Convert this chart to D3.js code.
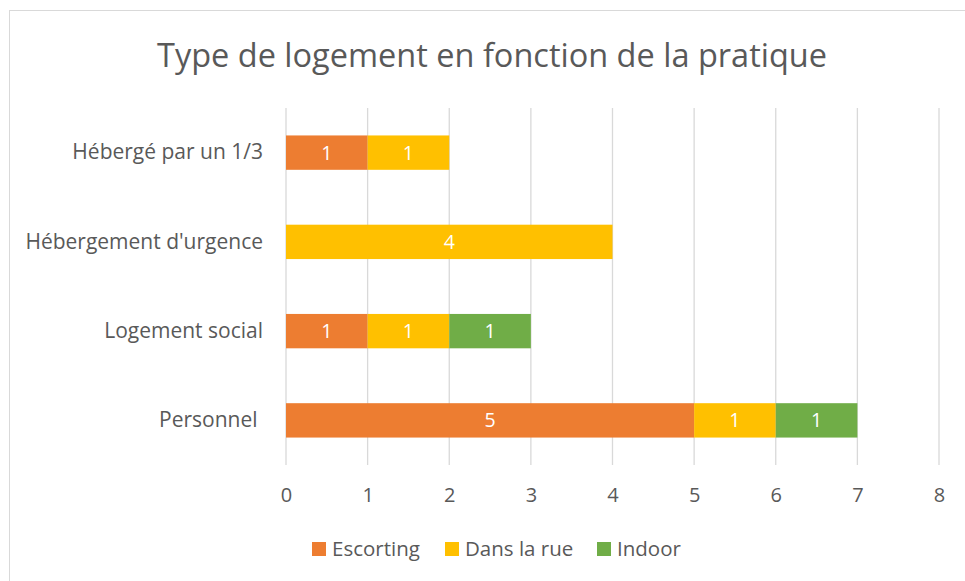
<!DOCTYPE html>
<html lang="fr">
<head>
<meta charset="UTF-8">
<title>Type de logement en fonction de la pratique</title>
<script src="https://d3js.org/d3.v7.min.js"></script>
<style>
  body { margin: 0; background: #fff; }
  svg text { font-family: "Open Sans", "Noto Sans", sans-serif; fill: #595959; }
</style>
</head>
<body>
<div id="chart"></div>
<script>
// categories, top to bottom
var categories = ["Hébergé par un 1/3", "Hébergement d'urgence", "Logement social", "Personnel "];
var seriesNames = ["Escorting", "Dans la rue", "Indoor"];
var escorting = [1, 0, 1, 5];
var dansLaRue = [1, 4, 1, 1];
var indoor = [0, 0, 1, 1];
var xTicks = [0, 1, 2, 3, 4, 5, 6, 7, 8];
var colors = ["#ED7D31", "#FFC000", "#70AD47"];

var W = 965, H = 581;
var svg = d3.select("#chart").append("svg")
  .attr("width", W).attr("height", H);

// chart frame
svg.append("rect")
  .attr("x", 9.5).attr("y", 10.5)
  .attr("width", W).attr("height", H)
  .attr("fill", "#fff").attr("stroke", "#d9d9d9");

svg.append("text")
  .attr("x", 492).attr("y", 67)
  .attr("text-anchor", "middle")
  .attr("font-size", 32.5)
  .text("Type de logement en fonction de la pratique");

var x = d3.scaleLinear().domain([0, 8]).range([286, 939]);
var y = d3.scaleBand().domain(categories).range([108, 465]).paddingInner(0.615).paddingOuter(0.3075);

// gridlines
svg.append("g").selectAll("line")
  .data(xTicks)
  .enter().append("line")
    .attr("x1", function(d) { return x(d); })
    .attr("x2", function(d) { return x(d); })
    .attr("y1", 108).attr("y2", 465)
    .attr("stroke", "#d9d9d9").attr("stroke-width", 1.3);

// stacked data
var rows = categories.map(function(c, i) {
  return { cat: c, Escorting: escorting[i], "Dans la rue": dansLaRue[i], Indoor: indoor[i] };
});
var stack = d3.stack().keys(seriesNames)(rows);

var layers = svg.append("g").selectAll("g")
  .data(stack)
  .enter().append("g")
    .attr("fill", function(d, i) { return colors[i]; });

layers.selectAll("rect")
  .data(function(d) { return d.filter(function(s) { return s[1] - s[0] > 0; }); })
  .enter().append("rect")
    .attr("x", function(d) { return x(d[0]); })
    .attr("width", function(d) { return x(d[1]) - x(d[0]); })
    .attr("y", function(d) { return y(d.data.cat); })
    .attr("height", y.bandwidth());

layers.selectAll("text")
  .data(function(d) { return d.filter(function(s) { return s[1] - s[0] > 0; }); })
  .enter().append("text")
    .attr("x", function(d) { return (x(d[0]) + x(d[1])) / 2; })
    .attr("y", function(d) { return y(d.data.cat) + y.bandwidth() / 2; })
    .attr("dy", "0.36em")
    .attr("text-anchor", "middle")
    .attr("font-size", 19.5)
    .style("fill", "#fff")
    .text(function(d) { return d[1] - d[0]; });

// x axis labels
var xAxis = svg.append("g")
  .attr("transform", "translate(0,480)")
  .call(d3.axisBottom(x).tickValues(xTicks).tickSize(0).tickPadding(8));
xAxis.select(".domain").remove();
xAxis.selectAll("text").attr("font-size", 20).style("fill", "#595959")
  .style("font-family", "'Open Sans', sans-serif");

// y axis labels
var yAxis = svg.append("g")
  .attr("transform", "translate(286,0)")
  .call(d3.axisLeft(y).tickSize(0).tickPadding(23));
yAxis.select(".domain").remove();
yAxis.selectAll("text").attr("font-size", 21).style("fill", "#595959")
  .style("font-family", "'Open Sans', sans-serif")
  .style("white-space", "pre");

// legend
var legendX = [312, 445, 597];
var legend = svg.append("g").selectAll("g")
  .data(seriesNames)
  .enter().append("g")
    .attr("transform", function(d, i) { return "translate(" + legendX[i] + ",542)"; });
legend.append("rect")
  .attr("width", 14).attr("height", 14)
  .attr("fill", function(d, i) { return colors[i]; });
legend.append("text")
  .attr("x", 20).attr("y", 7).attr("dy", "0.36em")
  .attr("font-size", 20.5)
  .text(function(d) { return d; });
</script>
</body>
</html>
